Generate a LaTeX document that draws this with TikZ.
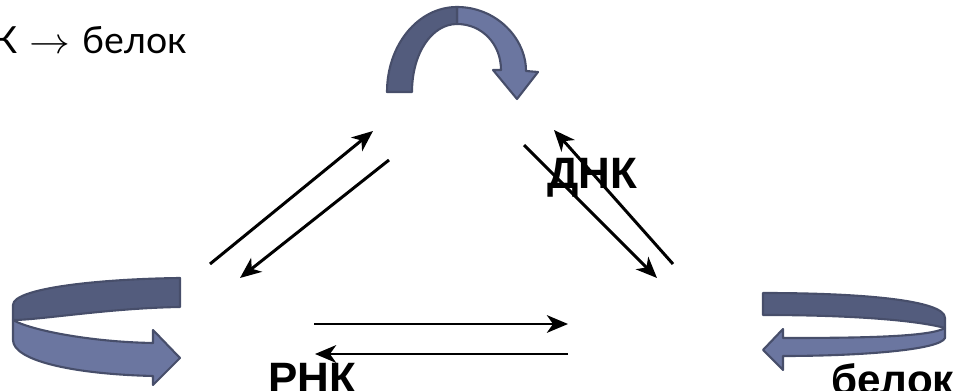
\documentclass[tikz,border=0pt]{standalone}
\usepackage{fontspec}
\setmainfont{Liberation Sans}
\newfontfamily\topfont{Lato}
\usetikzlibrary{arrows.meta}
\definecolor{ribdark}{HTML}{535C7D}
\definecolor{riblight}{HTML}{6B76A0}
\definecolor{ribline}{HTML}{474E6A}
\begin{document}
\begin{tikzpicture}[x=0.02cm,y=-0.02cm,
  conn/.style={line width=1.7pt,-{Stealth[length=12pt,width=10pt,inset=3.5pt]}},
  ribbondark/.style={fill=ribdark,draw=ribline,line width=1.2pt,line join=round},
  ribbonlight/.style={fill=riblight,draw=ribline,line width=1.2pt,line join=round},
  biglabel/.style={font=\bfseries\fontsize{25}{30}\selectfont,inner sep=0pt,anchor=base west},
  toplabel/.style={font=\topfont\fontsize{21.3}{25}\selectfont,inner sep=0pt,anchor=base west}]
\useasboundingbox (0,0) rectangle (953,391);

% text
\node[toplabel] (flow) at (-8,54) {К\hspace{7pt}\scalebox{1.12}[1]{$\rightarrow$}\hspace{7pt}белок};
\node[biglabel] (dna) at (547,189) {ДНК};
\node[biglabel] (rna) at (268,394) {РНК};
\node[biglabel,font=\bfseries\fontsize{24}{29}\selectfont] (prot) at (831,395) {белок};

% top loop arrow
\draw[ribbonlight] (457,7) .. controls (496,7) and (526,38) .. (526,71)
  -- (538,72) -- (517,99) -- (493,70) -- (501,70)
  .. controls (501,44) and (482,24) .. (457,24) -- cycle;
\draw[ribbondark] (387,92) .. controls (387,45) and (418,7) .. (457,7)
  -- (457,24) .. controls (432,24) and (412,53) .. (412,92) -- cycle;

% left loop arrow
\draw[ribbondark] (180,278) .. controls (100,279) and (13,288) .. (13,305)
  -- (13,320) .. controls (40,320) and (110,308) .. (180,307) -- cycle;
\draw[ribbonlight] (13,320) .. controls (30,330) and (90,342) .. (153,343)
  -- (153,330) -- (180,358) -- (153,385) -- (153,376)
  .. controls (70,374) and (13,360) .. (13,340) -- cycle;

% right loop arrow
\draw[ribbondark] (763,293) .. controls (860,293) and (945,300) .. (945,318)
  -- (945,328) .. controls (915,320) and (850,315) .. (763,315) -- cycle;
\draw[ribbonlight] (945,328) .. controls (930,337) and (860,338) .. (783,338)
  -- (783,329) -- (763,350) -- (783,370) -- (783,356)
  .. controls (860,356) and (940,350) .. (945,338) -- cycle;

% straight arrows
\coordinate (a1s) at (210,264); \coordinate (a1e) at (373,131);
\coordinate (a2s) at (389,160); \coordinate (a2e) at (240,278);
\coordinate (a3s) at (524,145); \coordinate (a3e) at (657,278);
\coordinate (a4s) at (673,264); \coordinate (a4e) at (554,130);
\coordinate (a5s) at (314,324); \coordinate (a5e) at (568,324);
\coordinate (a6s) at (568,354); \coordinate (a6e) at (315,354);
\draw[conn] (a1s) -- (a1e);
\draw[conn] (a2s) -- (a2e);
\draw[conn] (a3s) -- (a3e);
\draw[conn] (a4s) -- (a4e);
\draw[conn] (a5s) -- (a5e);
\draw[conn] (a6s) -- (a6e);
\end{tikzpicture}
\end{document}
